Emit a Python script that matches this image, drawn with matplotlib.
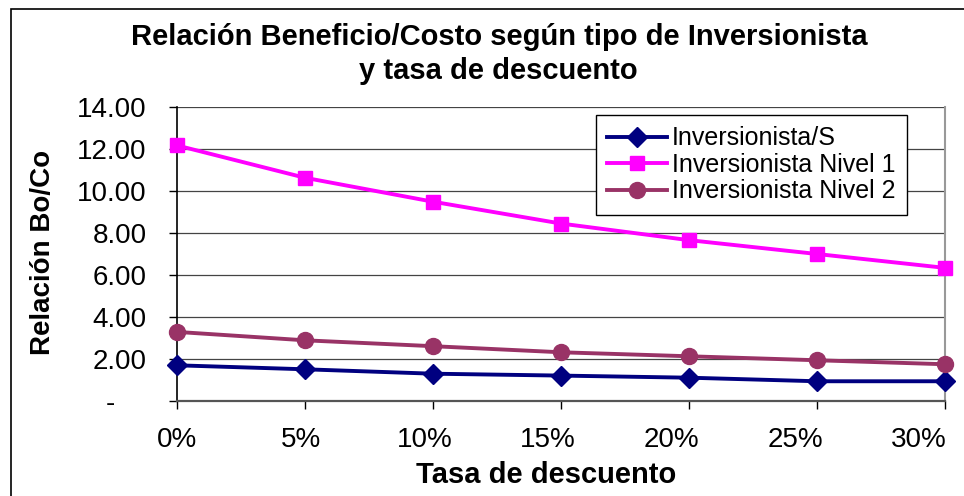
import matplotlib
matplotlib.use("Agg")
import matplotlib.pyplot as plt
import matplotlib.transforms as mtransforms
from matplotlib.patches import Rectangle
from matplotlib.ticker import FixedLocator, FixedFormatter

plt.rcParams['font.family'] = ['Liberation Sans', 'DejaVu Sans']

# Data
tasas = [0.00, 0.05, 0.10, 0.15, 0.20, 0.25, 0.30]
tasa_labels = ['0%', '5%', '10%', '15%', '20%', '25%', '30%']
inv_s = [1.70, 1.51, 1.30, 1.21, 1.11, 0.94, 0.94]
inv_n1 = [12.17, 10.63, 9.49, 8.45, 7.66, 7.00, 6.34]
inv_n2 = [3.29, 2.89, 2.61, 2.32, 2.13, 1.94, 1.75]
y_ticks = [0, 2, 4, 6, 8, 10, 12, 14]
y_labels = ['-    ', '2.00', '4.00', '6.00', '8.00', '10.00', '12.00', '14.00']

W, H = 964, 496
fig = plt.figure(figsize=(W / 100, H / 100), dpi=100)
ax = fig.add_axes([177 / W, 1 - 401 / H, (945 - 177) / W, (401 - 107) / H])

# chart border (runs off the right and bottom edges)
fig.patches.append(Rectangle((11 / W, -0.1), 1.2, 1.1 - 9 / H,
                             transform=fig.transFigure, fill=False,
                             edgecolor='black', linewidth=1.2))

ax.plot(tasas, inv_s, color='#000080', lw=2.8, marker='D', ms=10.5,
        label='Inversionista/S', clip_on=False, zorder=5)
ax.plot(tasas, inv_n1, color='#FF00FF', lw=2.8, marker='s', ms=10.5,
        label='Inversionista Nivel 1', clip_on=False, zorder=5)
ax.plot(tasas, inv_n2, color='#993366', lw=2.8, marker='o', ms=11.5,
        label='Inversionista Nivel 2', clip_on=False, zorder=5)

ax.set_xlim(0, 0.30)
ax.set_ylim(0, 14)
ax.xaxis.set_major_locator(FixedLocator(tasas))
ax.xaxis.set_major_formatter(FixedFormatter(tasa_labels))
ax.yaxis.set_major_locator(FixedLocator(y_ticks))
ax.yaxis.set_major_formatter(FixedFormatter(y_labels))

ax.grid(axis='y', color='#444444', lw=0.9)
ax.set_axisbelow(True)
ax.tick_params(axis='both', direction='out', length=6, width=1,
               labelsize=20, color='black')
ax.tick_params(axis='y', pad=16)
ax.tick_params(axis='x', pad=13)

# Excel squeezes the category labels a little towards the left
for i, lab in enumerate(ax.get_xticklabels()):
    off = mtransforms.ScaledTranslation(-i * 4.3 / 100, 0, fig.dpi_scale_trans)
    lab.set_transform(lab.get_transform() + off)

ax.spines['top'].set_visible(False)
ax.spines['right'].set_color('#999999')
ax.spines['right'].set_linewidth(1.5)
ax.spines['left'].set_color('black')
ax.spines['left'].set_linewidth(1.2)
ax.spines['bottom'].set_color('#555555')
ax.spines['bottom'].set_linewidth(1.6)

fig.text(499 / W, 1 - 45 / H, 'Relación Beneficio/Costo según tipo de Inversionista',
         ha='center', va='baseline', fontsize=21, fontweight='bold')
fig.text(498 / W, 1 - 79 / H, 'y tasa de descuento',
         ha='center', va='baseline', fontsize=21, fontweight='bold')
fig.text(546 / W, 1 - 483 / H, 'Tasa de descuento',
         ha='center', va='baseline', fontsize=21, fontweight='bold')
fig.text(43 / W, 1 - 252 / H, 'Relación Bo/Co', rotation=90,
         ha='center', va='center', fontsize=20, fontweight='bold')

leg = ax.legend(loc='upper right', bbox_to_anchor=(907 / W, 1 - 115 / H),
                bbox_transform=fig.transFigure, fontsize=18,
                frameon=True, fancybox=False, shadow=False,
                handlelength=2.4, handletextpad=0.2, labelspacing=0.1,
                borderpad=0.45, borderaxespad=0)
leg.get_frame().set_edgecolor('black')
leg.get_frame().set_linewidth(1.0)
leg.get_frame().set_alpha(1)

fig.savefig('out.png', dpi=100)
